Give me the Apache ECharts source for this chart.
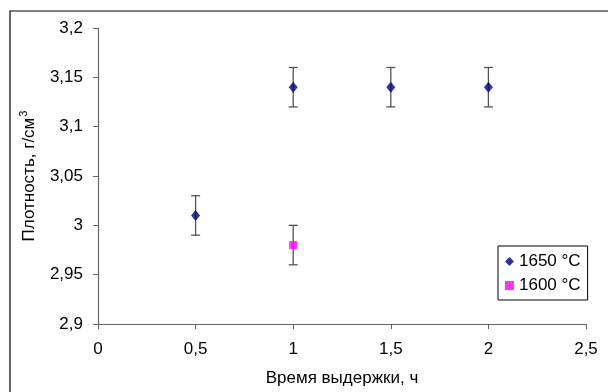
<!DOCTYPE html>
<html><head><meta charset="utf-8">
<script src="https://cdn.jsdelivr.net/npm/echarts@6/dist/echarts.min.js"></script>
<style>html,body{margin:0;padding:0;background:#fff}#c{width:608px;height:392px}</style>
</head><body><div id="c"></div>
<script>
const seriesNames = ['1650 °C', '1600 °C'];
const x1650 = [0.5, 1, 1.5, 2];
const y1650 = [3.01, 3.14, 3.14, 3.14];
const err1650 = [0.02, 0.02, 0.02, 0.02];
const x1600 = [1];
const y1600 = [2.98];
const err1600 = [0.02];
const xTicks = [0, 0.5, 1, 1.5, 2, 2.5];
const yTicks = [2.9, 2.95, 3, 3.05, 3.1, 3.15, 3.2];

const fmt = v => String(+v.toFixed(2)).replace('.', ',');
const pts = (xs, ys) => xs.map((x, i) => [x, ys[i]]);
const errData = (xs, ys, es) => xs.map((x, i) => [x, ys[i] - es[i], ys[i] + es[i]]);

const errRender = function (params, api) {
  const x = api.value(0);
  const lo = api.coord([x, api.value(1)]);
  const hi = api.coord([x, api.value(2)]);
  const w = 4.5;
  const st = { stroke: '#555', lineWidth: 1.3 };
  return { type: 'group', children: [
    { type: 'line', shape: { x1: lo[0], y1: lo[1], x2: hi[0], y2: hi[1] }, style: st },
    { type: 'line', shape: { x1: lo[0] - w, y1: lo[1], x2: lo[0] + w, y2: lo[1] }, style: st },
    { type: 'line', shape: { x1: hi[0] - w, y1: hi[1], x2: hi[0] + w, y2: hi[1] }, style: st }
  ]};
};

const chart = echarts.init(document.getElementById('c'), null, { renderer: 'canvas' });
const font = 'Liberation Sans, Arial, sans-serif';
const FS = 17;
chart.setOption({
  animation: false,
  textStyle: { fontFamily: font },
  graphic: [{ type: 'rect', shape: { x: 10, y: 11, width: 620, height: 400 }, style: { fill: 'none', stroke: '#000', lineWidth: 1.2 }, z: -1 }],
  grid: { left: 98, right: 22, top: 28, bottom: 65 },
  xAxis: {
    type: 'value', min: xTicks[0], max: xTicks[xTicks.length - 1], interval: 0.5,
    name: 'Время выдержки, ч', nameLocation: 'middle', nameGap: 46,
    nameTextStyle: { fontSize: FS, color: '#000', fontFamily: font },
    axisLine: { lineStyle: { color: '#666', width: 1.2 } },
    axisTick: { inside: false, length: 5, lineStyle: { color: '#666' } },
    axisLabel: { fontSize: FS, color: '#000', margin: 17, formatter: fmt, fontFamily: font },
    splitLine: { show: false }
  },
  yAxis: {
    type: 'value', min: yTicks[0], max: yTicks[yTicks.length - 1], interval: 0.05,
    name: '{a|Плотность, г/см}{s|3}', nameLocation: 'middle', nameGap: 57, nameRotate: 90,
    nameTextStyle: { color: '#000', rich: { a: { fontSize: FS, fontFamily: font, color: '#000', verticalAlign: 'bottom', lineHeight: 20 }, s: { fontSize: 11, fontFamily: font, color: '#000', verticalAlign: 'top', lineHeight: 20, padding: [0, 0, 10, 1] } } },
    axisLine: { show: true, lineStyle: { color: '#666', width: 1.2 } },
    axisTick: { show: true, inside: false, length: 5, lineStyle: { color: '#666' } },
    axisLabel: { fontSize: FS, color: '#000', margin: 15, formatter: fmt, fontFamily: font },
    splitLine: { show: false }
  },
  legend: {
    orient: 'vertical', left: 498, top: 246, padding: [7, 7, 6, 7], itemGap: 7,
    backgroundColor: '#fff', borderColor: '#000', borderWidth: 1,
    itemWidth: 9, itemHeight: 9,
    textStyle: { fontSize: FS, color: '#000', fontFamily: font, padding: [0, 0, 0, 0] },
    data: [{ name: seriesNames[0], icon: 'diamond' }, { name: seriesNames[1], icon: 'rect' }]
  },
  series: [
    { type: 'custom', renderItem: errRender, data: errData(x1650, y1650, err1650), z: 1, silent: true },
    { type: 'custom', renderItem: errRender, data: errData(x1600, y1600, err1600), z: 1, silent: true },
    { name: seriesNames[0], type: 'scatter', symbol: 'diamond', symbolSize: [9, 11], itemStyle: { color: '#000080' }, data: pts(x1650, y1650), z: 3 },
    { name: seriesNames[1], type: 'scatter', symbol: 'rect', symbolSize: 8, itemStyle: { color: '#FF00FF' }, data: pts(x1600, y1600), z: 3 }
  ]
});
</script></body></html>
